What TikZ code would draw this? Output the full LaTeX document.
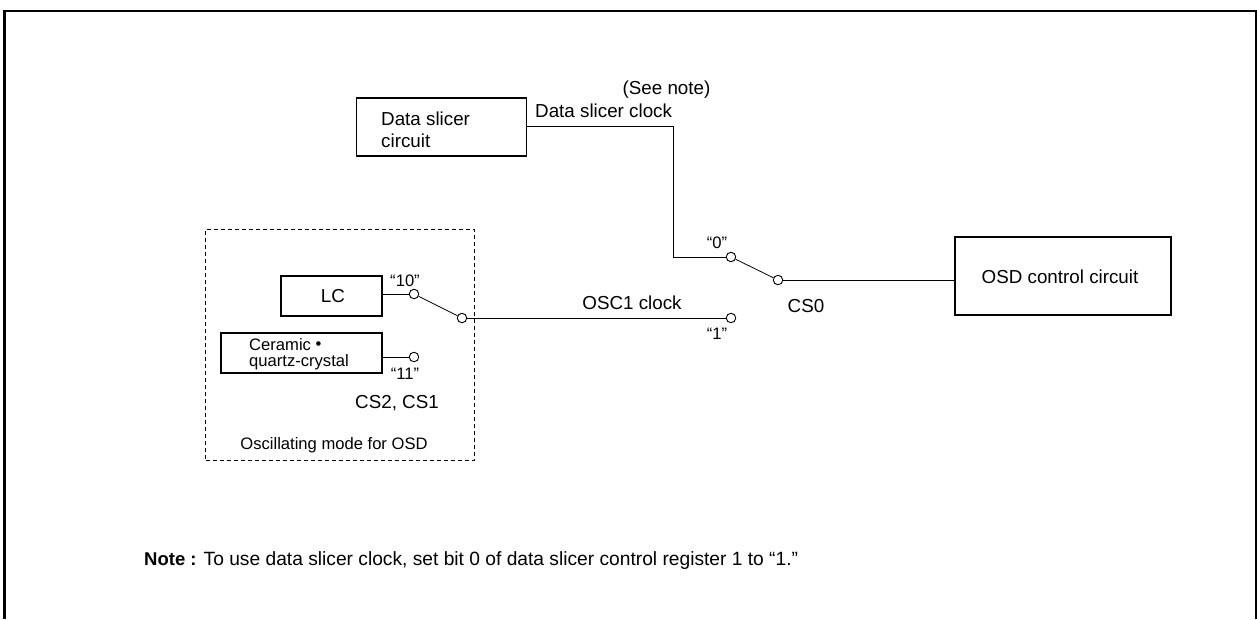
\documentclass[tikz,border=0pt]{standalone}
\usepackage{fontspec}
\setmainfont{Liberation Sans}
\usetikzlibrary{positioning, calc}

\begin{document}
\begin{tikzpicture}[
    x=1pt, y=-1pt,
    bloc/.style={rectangle, draw, line width=1.8pt, anchor=north west, inner sep=0pt, outer sep=0pt},
    contact/.style={circle, draw, line width=0.9pt, fill=white, inner sep=0pt, minimum size=9.5pt},
    fil/.style={line width=1pt},
    texte/.style={inner sep=0pt, font=\fontsize{18.8}{22}\selectfont},
    petit/.style={inner sep=0pt, font=\fontsize{16.6}{16}\selectfont}
]
    \useasboundingbox (0, 0) rectangle (1257, 619);

    % Cadre ouvert en bas
    \coordinate (basg) at (4.5, 619);
    \coordinate (hautg) at (4.5, 11);
    \coordinate (hautd) at (1256, 11);
    \coordinate (basd) at (1256, 619);
    \draw[line width=2.5pt] (basg) -- (hautg) -- (hautd) -- (basd);

    % Blocs principaux
    \node[bloc, minimum width=170pt, minimum height=58pt] (slicer) at (356.5, 98) {};
    \node[texte, align=left, anchor=west] (slicertxt) at (381, 129.5) {Data slicer\\circuit};
    \node[bloc, minimum width=216pt, minimum height=78pt] (osd) at (955, 237) {};
    \node[texte] (osdtxt) at (1060, 277) {OSD control circuit};
    \node[bloc, minimum width=101pt, minimum height=40pt] (lc) at (281, 276) {};
    \node[texte] (lctxt) at (333, 296) {LC};
    \node[bloc, minimum width=161pt, minimum height=40pt] (ceram) at (221, 333) {};
    \node[petit, align=left, anchor=west] (ceramtxt) at (249, 354) {Ceramic \raisebox{0.5pt}{\textbullet}\\quartz-crystal};

    % Mode d'oscillation
    \node[rectangle, draw, dash pattern=on 4pt off 3pt, line width=0.8pt, anchor=north west, outer sep=0pt, minimum width=268.5pt, minimum height=231pt] (mode) at (205.5, 229) {};
    \node[petit] (modetxt) at (334, 445) {Oscillating mode for OSD};

    % Contacts
    \node[contact] (c10) at (414, 294) {};
    \node[contact] (c11) at (414, 357) {};
    \node[contact] (pivA) at (462, 318) {};
    \node[contact] (c1) at (731, 318) {};
    \node[contact] (c0) at (731, 257) {};
    \node[contact] (pivB) at (778, 280) {};
    \coordinate (coude) at (673, 126.5);

    % Fils
    \draw[fil] (lc.east |- c10) -- (c10);
    \draw[fil] (ceram.east |- c11) -- (c11);
    \draw[fil] (pivA) -- (c1);
    \draw[fil] (slicer.east |- coude) -- (coude) |- (c0);
    \draw[fil] (pivB) -- (osd.west |- pivB);

    % Inverseurs
    \draw[line width=0.8pt] (c10) -- (pivA);
    \draw[line width=0.8pt] (c0) -- (pivB);

    % Etiquettes
    \node[texte] (note) at (666.5, 90) {(See note)};
    \node[texte, anchor=west] (clk) at (535, 110.5) {Data slicer clock};
    \node[texte] (osc) at (632, 303) {OSC1 clock};
    \node[texte] (cszero) at (806, 306) {CS0};
    \node[texte] (csdeux) at (397, 403) {CS2, CS1};
    \node[petit] (v10) at (405, 281) {``10''};
    \node[petit] (v11) at (405, 374) {``11''};
    \node[petit] (v0) at (717, 243) {``0''};
    \node[petit] (v1) at (717, 334) {``1''};

    % Remarque
    \node[font=\fontsize{19.2}{20}\selectfont, inner sep=0pt, anchor=west] (rem) at (144, 561) {{\fontsize{18.5}{20}\selectfont\textbf{Note :}} To use data slicer clock, set bit 0 of data slicer control register 1 to ``1.''};
\end{tikzpicture}
\end{document}
